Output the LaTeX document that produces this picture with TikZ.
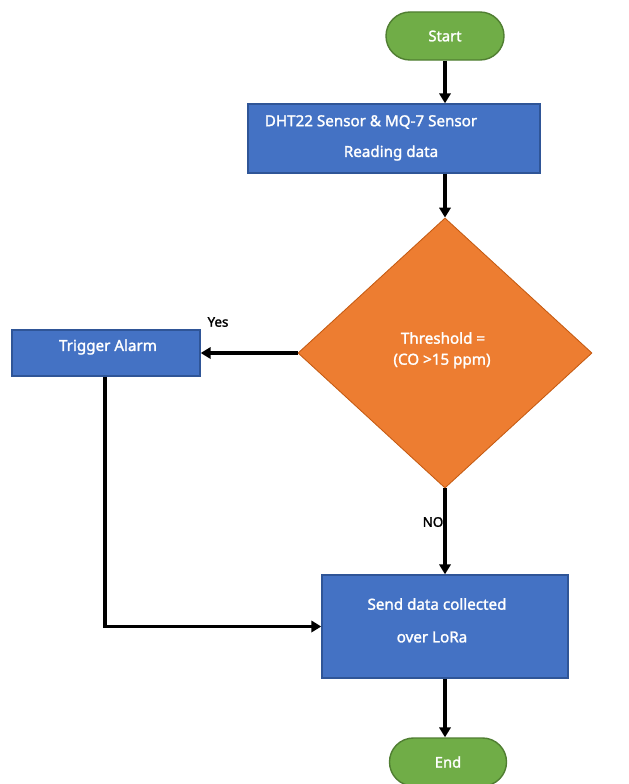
\documentclass[tikz,border=0pt]{standalone}
\usepackage{fontspec}
\setmainfont{Noto Sans}
\newfontfamily\heavyfont{Noto Sans}[FakeBold=1.6]
\usepackage{tikz}
\usetikzlibrary{shapes.geometric,arrows.meta}

\definecolor{termgreen}{HTML}{70AD47}
\definecolor{termedge}{HTML}{507E32}
\definecolor{procblue}{HTML}{4472C4}
\definecolor{procedge}{HTML}{2F5597}
\definecolor{checkorange}{HTML}{ED7D31}
\definecolor{checkedge}{HTML}{C55A11}

\tikzset{
  terminal/.style={draw=termedge, line width=1pt, fill=termgreen, rounded corners=0.6cm,
    minimum width=2.95cm, minimum height=1.2cm, text=white, font=\heavyfont\fontsize{10.5}{12}\selectfont},
  process/.style={draw=procedge, line width=1pt, fill=procblue},
  boxtext/.style={text=white, font=\heavyfont\fontsize{10.8}{12}\selectfont, inner sep=0pt},
  flow/.style={line width=2.6pt, -{Triangle[length=7pt, width=8pt]}},
  tag/.style={font=\heavyfont\fontsize{9.5}{11}\selectfont, inner sep=0pt}
}

\begin{document}
\begin{tikzpicture}[x=0.025cm, y=-0.025cm]
        \useasboundingbox (0,0) rectangle (629,784);

        % Start and end
        \node[terminal] (start) at (445, 36) {Start};
        \node[terminal, minimum width=2.925cm] (finish) at (448, 762) {End};

        % Reading box
        \node[process, minimum width=7.3cm, minimum height=1.725cm] (read) at (394, 138.5) {};
        \node[boxtext] (readA) at (371, 122) {DHT22 Sensor \& MQ-7 Sensor};
        \node[boxtext] (readB) at (391, 153) {Reading data};

        % Decision diamond
        \node[diamond, draw=checkedge, line width=0.6pt, fill=checkorange, inner sep=0pt,
          minimum width=7.35cm, minimum height=6.75cm] (check) at (445, 353) {};
        \node[boxtext] (checkA) at (443, 338) {Threshold =};
        \node[boxtext] (checkB) at (442, 361) {(CO >15 ppm)};

        % Alarm box
        \node[process, minimum width=4.7cm, minimum height=1.15cm] (alarm) at (106, 353) {};
        \node[boxtext] (alarmA) at (108, 347) {Trigger Alarm};

        % Send box
        \node[process, minimum width=6.15cm, minimum height=2.575cm] (send) at (445, 626.5) {};
        \node[boxtext] (sendA) at (437, 604) {Send data collected};
        \node[boxtext] (sendB) at (432, 637) {over LoRa};

        % Connectors
        \draw[flow] (start.south) -- (start.south |- read.north);
        \draw[flow] (read.south -| check.north) -- (check.north);
        \draw[flow] (check.west) -- (alarm.east);
        \draw[flow] (check.south) -- (send.north);
        \draw[flow] (alarm.south -| 105, 0) |- (send.west);
        \draw[flow] (send.south) -- (send.south |- finish.north);

        % Branch labels
        \node[tag] (yes) at (218, 322) {Yes};
        \node[tag] (no) at (433, 522) {NO};
      \end{tikzpicture}
\end{document}
